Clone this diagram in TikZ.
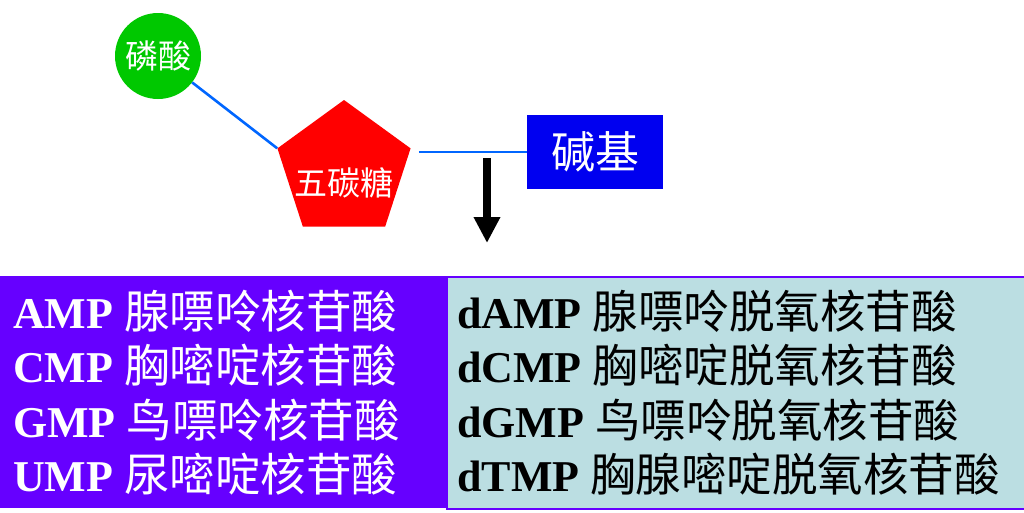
\documentclass[tikz,border=0pt]{standalone}
\usepackage{fontspec}
\setmainfont{Liberation Serif}
\newfontfamily\cjk{Noto Sans CJK SC}
\usepackage{tikz}
\usetikzlibrary{shapes.geometric,arrows.meta,positioning,calc}
\definecolor{phosGreen}{RGB}{0,200,0}
\definecolor{sugarRed}{RGB}{255,0,0}
\definecolor{baseBlue}{RGB}{0,0,240}
\definecolor{bondBlue}{RGB}{0,102,255}
\definecolor{panelViolet}{RGB}{102,0,255}
\definecolor{panelCyan}{RGB}{187,222,226}
\newcommand{\hanzi}[1]{{\cjk\fontsize{45.5}{50}\selectfont #1}}

\begin{document}
\begin{tikzpicture}[x=1pt, y=-1pt,
    every node/.style={inner sep=0pt, align=center},
    bond/.style={draw=bondBlue, line width=2.6pt},
    rowtext/.style={anchor=base west, font=\fontsize{44}{50}\selectfont},
    part/.style={text=white, font=\cjk\fontsize{33}{36}\selectfont}
  ]
    \useasboundingbox (0,0) rectangle (1024,512);
    % Components
    \node[part, circle, fill=phosGreen, minimum size=86pt] (phos) at (158,56) {磷酸};
    \node[regular polygon, regular polygon sides=5, fill=sugarRed, minimum size=140pt,
      label={[part, yshift=-13pt]center:五碳糖}] (sugar) at (344,170) {};
    \node[part, fill=baseBlue, minimum width=136pt, minimum height=74pt,
      font=\cjk\fontsize{44}{48}\selectfont] (base) at (595,152) {碱基};
    % Bonds
    \draw[bond] (phos) -- (sugar.corner 2);
    \draw[bond] ([xshift=8pt]sugar.corner 5 |- base.west) -- (base.west);
    % Arrow down
    \coordinate (arrtop) at (487,158);
    \coordinate (arrtip) at (487,243);
    \draw[-{Triangle[width=25pt, length=26pt]}, line width=8pt] (arrtop) -- (arrtip);
    % Panels
    \node[fill=panelViolet, minimum width=446pt, minimum height=232pt, anchor=north west]
      (ribo) at (0,276) {};
    \node[fill=panelCyan, draw=panelViolet, line width=2pt, minimum width=580pt,
      minimum height=232pt, anchor=north west] (deoxy) at (446,276) {};
    % Ribonucleotides
    \node[rowtext, text=white] (amp) at (13,328) {\textbf{AMP} \hanzi{腺嘌呤核苷酸}};
    \node[rowtext, text=white] (cmp) at (13,382.5) {\textbf{CMP} \hanzi{胸嘧啶核苷酸}};
    \node[rowtext, text=white] (gmp) at (13,437) {\textbf{GMP} \hanzi{鸟嘌呤核苷酸}};
    \node[rowtext, text=white] (ump) at (13,491.5) {\textbf{UMP} \hanzi{尿嘧啶核苷酸}};
    % Deoxyribonucleotides
    \node[rowtext] (damp) at (457,328) {\textbf{dAMP} \hanzi{腺嘌呤脱氧核苷酸}};
    \node[rowtext] (dcmp) at (457,382.5) {\textbf{dCMP} \hanzi{胸嘧啶脱氧核苷酸}};
    \node[rowtext] (dgmp) at (457,437) {\textbf{dGMP} \hanzi{鸟嘌呤脱氧核苷酸}};
    \node[rowtext] (dtmp) at (457,491.5) {\textbf{dTMP} \hanzi{胸腺嘧啶脱氧核苷酸}};
  \end{tikzpicture}
\end{document}
